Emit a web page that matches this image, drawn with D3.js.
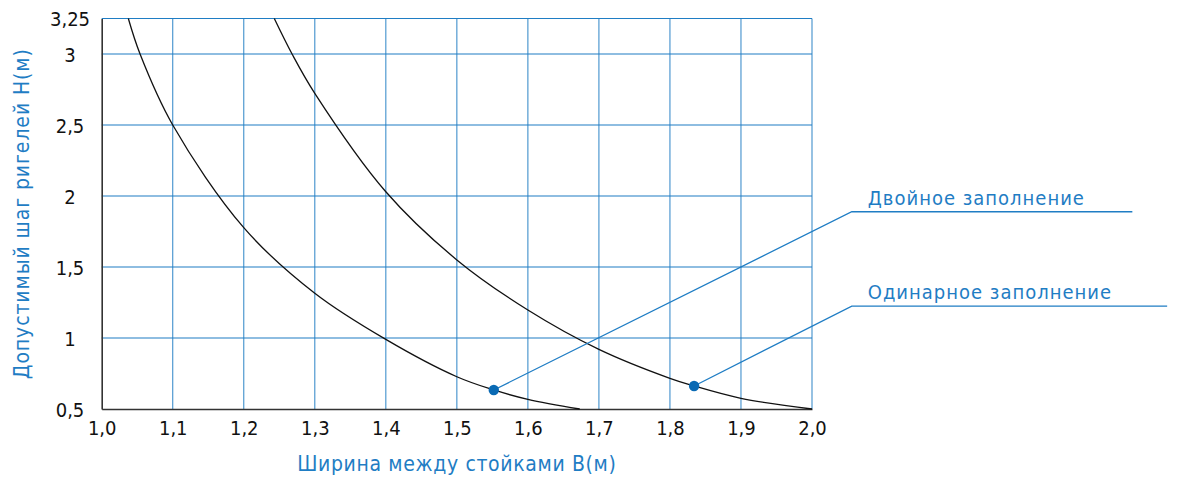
<!DOCTYPE html>
<html><head><meta charset="utf-8">
<script src="https://cdn.jsdelivr.net/npm/d3@7/dist/d3.min.js"></script>
<style>
html,body{margin:0;padding:0;background:#fff;}
svg{display:block;}
text{font-family:"DejaVu Sans Condensed","DejaVu Sans",sans-serif;}
</style></head>
<body>
<script>
// ---- data ----
const xTicks = [1.0,1.1,1.2,1.3,1.4,1.5,1.6,1.7,1.8,1.9,2.0];
const xTickLabels = ["1,0","1,1","1,2","1,3","1,4","1,5","1,6","1,7","1,8","1,9","2,0"];
const yTicks = [0.5,1,1.5,2,2.5,3,3.25];
const yTickLabels = ["0,5","1","1,5","2","2,5","3","3,25"];

// Curve "Двойное заполнение" (left curve)
const doubleB = [1.0375,1.054,1.1,1.2,1.3,1.4,1.5,1.552,1.6,1.673];
const doubleH = [3.25,3.0,2.5,1.777,1.315,0.99,0.727,0.634,0.568,0.5];
// Curve "Одинарное заполнение" (right curve)
const singleB = [1.243,1.268,1.3,1.4,1.5,1.6,1.7,1.8,1.834,1.9,2.0];
const singleH = [3.25,3.0,2.723,2.03,1.55,1.197,0.92,0.716,0.662,0.575,0.5];

// marked points and label leaders (data units)
const markB = [1.552,1.834];
const markH = [0.634,0.662];
const labels = ["Двойное заполнение","Одинарное заполнение"];
const elbowB = [2.056,2.056];
const elbowH = [1.889,1.225];
const endB = [2.451,2.5];

const xTitle = "Ширина между стойками В(м)";
const yTitle = "Допустимый шаг ригелей Н(м)";

// ---- drawing ----
const W = 1177, H = 478;
const blue = "#1f7dc4";
const svg = d3.select("body").append("svg").attr("width",W).attr("height",H);

const x = d3.scaleLinear().domain([1.0,2.0]).range([101.7,812]);
const y = d3.scaleLinear().domain([0.5,3.25]).range([409,18.5]);

const g = svg.append("g");

// grid
g.selectAll("line.vg").data(xTicks.slice(1)).join("line")
  .attr("x1",d=>x(d)).attr("x2",d=>x(d)).attr("y1",y(0.5)).attr("y2",y(3.25))
  .attr("stroke",blue).attr("stroke-width",1.1).attr("opacity",0.85);
g.selectAll("line.hg").data(yTicks.slice(1)).join("line")
  .attr("x1",x(1.0)).attr("x2",x(2.0)).attr("y1",d=>y(d)).attr("y2",d=>y(d))
  .attr("stroke",blue).attr("stroke-width",1.1);

// axes
const xAxis = d3.axisBottom(x).tickValues(xTicks).tickSize(0)
  .tickFormat((d,i)=>xTickLabels[i]);
const gx = svg.append("g").attr("transform",`translate(0,${y(0.5)})`).call(xAxis);
gx.select(".domain").attr("stroke","#333").attr("stroke-width",1.6);
gx.selectAll("text").attr("font-size",20).attr("fill","#111").attr("dy","1.15em")
  .attr("font-family",'"DejaVu Sans Condensed",sans-serif');

const yAxis = d3.axisLeft(y).tickValues(yTicks).tickSize(0)
  .tickFormat((d)=>yTickLabels[yTicks.indexOf(d)]);
const gy = svg.append("g").attr("transform",`translate(${x(1.0)},0)`).call(yAxis);
gy.select(".domain").attr("stroke","#333").attr("stroke-width",1.6);
gy.selectAll("text").attr("font-size",20).attr("fill","#111")
  .attr("text-anchor","middle").attr("x",70-x(1.0)).attr("dy","0.35em")
  .attr("font-family",'"DejaVu Sans Condensed",sans-serif');

// curves
const line = d3.line().x(d=>x(d[0])).y(d=>y(d[1])).curve(d3.curveCatmullRom.alpha(0.5));
[[doubleB,doubleH],[singleB,singleH]].forEach(([bs,hs])=>{
  svg.append("path").datum(bs.map((b,i)=>[b,hs[i]]))
    .attr("d",line).attr("fill","none").attr("stroke","#111").attr("stroke-width",1.3);
});

// leaders
labels.forEach((lab,i)=>{
  svg.append("polyline")
    .attr("points",[[x(markB[i]),y(markH[i])],[x(elbowB[i]),y(elbowH[i])],[x(endB[i]),y(elbowH[i])]].map(p=>p.join(",")).join(" "))
    .attr("fill","none").attr("stroke",blue).attr("stroke-width",1.3);
  svg.append("circle").attr("cx",x(markB[i])).attr("cy",y(markH[i])).attr("r",5.2).attr("fill","#0a6ab4");
  svg.append("text").attr("x",x(elbowB[i])+16).attr("y",y(elbowH[i])-7)
    .attr("font-size",20).attr("fill",blue).attr("letter-spacing","1px").text(lab);
});

// titles
svg.append("text").attr("x",(x(1.0)+x(2.0))/2).attr("y",471)
  .attr("text-anchor","middle").attr("font-size",21).attr("fill",blue)
  .attr("letter-spacing","0.65px").text(xTitle);
svg.append("text").attr("transform",`translate(29,${(y(0.5)+y(3.25))/2}) rotate(-90)`)
  .attr("text-anchor","middle").attr("font-size",21).attr("fill",blue)
  .attr("letter-spacing","0.9px").text(yTitle);
</script>
</body></html>
